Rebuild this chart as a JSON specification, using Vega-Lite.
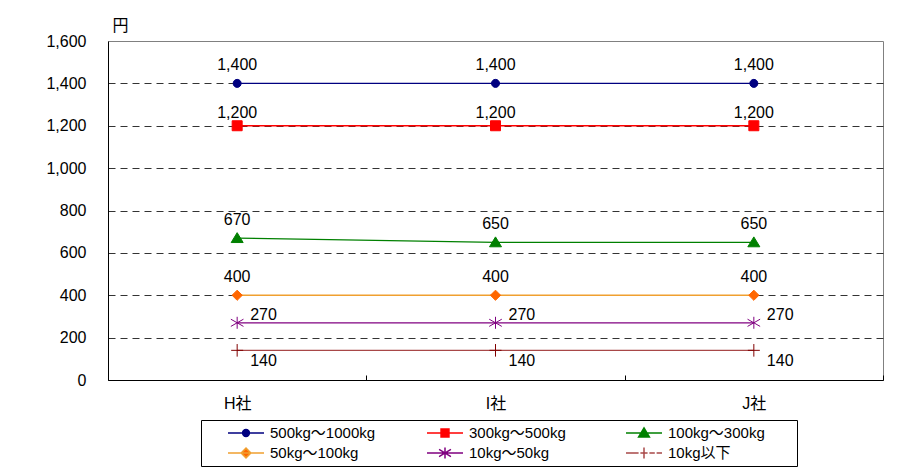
{
  "$schema": "https://vega.github.io/schema/vega-lite/v6.json",
  "width": 775,
  "height": 339,
  "autosize": {"type": "none"},
  "padding": {"left": 108, "top": 41, "right": 35, "bottom": 95},
  "data": {
    "values": [
      {"company": "H社", "series": "500kg～1000kg", "value": 1400},
      {"company": "I社", "series": "500kg～1000kg", "value": 1400},
      {"company": "J社", "series": "500kg～1000kg", "value": 1400},
      {"company": "H社", "series": "300kg～500kg", "value": 1200},
      {"company": "I社", "series": "300kg～500kg", "value": 1200},
      {"company": "J社", "series": "300kg～500kg", "value": 1200},
      {"company": "H社", "series": "100kg～300kg", "value": 670},
      {"company": "I社", "series": "100kg～300kg", "value": 650},
      {"company": "J社", "series": "100kg～300kg", "value": 650},
      {"company": "H社", "series": "50kg～100kg", "value": 400},
      {"company": "I社", "series": "50kg～100kg", "value": 400},
      {"company": "J社", "series": "50kg～100kg", "value": 400},
      {"company": "H社", "series": "10kg～50kg", "value": 270},
      {"company": "I社", "series": "10kg～50kg", "value": 270},
      {"company": "J社", "series": "10kg～50kg", "value": 270},
      {"company": "H社", "series": "10kg以下", "value": 140},
      {"company": "I社", "series": "10kg以下", "value": 140},
      {"company": "J社", "series": "10kg以下", "value": 140}
    ]
  },
  "config": {
    "font": "Liberation Sans, Noto Sans CJK JP",
    "view": {"stroke": "#808080", "strokeWidth": 1},
    "axis": {"labelColor": "#000", "labelFontSize": 16, "labelFont": "Liberation Sans, Noto Sans CJK JP", "domainColor": "#000", "tickColor": "#000"},
    "text": {"font": "Liberation Sans, Noto Sans CJK JP", "fontSize": 16, "color": "#000"}
  },
  "encoding": {
    "x": {
      "field": "company", "type": "nominal", "sort": ["H社", "I社", "J社"],
      "scale": {"type": "band", "paddingInner": 0, "paddingOuter": 0},
      "axis": {"title": null, "labelAngle": 0, "tickBand": "extent", "tickSize": -5, "labelPadding": 20, "grid": false}
    },
    "y": {
      "field": "value", "type": "quantitative",
      "scale": {"domain": [0, 1600], "nice": false},
      "axis": {
        "values": [0, 200, 400, 600, 800, 1000, 1200, 1400, 1600],
        "format": ",d",
        "title": "円", "titleAngle": 0, "titleX": 4, "titleY": -16, "titleAlign": "left", "titleBaseline": "middle",
        "titleFontSize": 16, "titleFontWeight": "normal", "titleColor": "#000", "titleFont": "Noto Sans CJK JP",
        "tickSize": 0, "labelPadding": 22,
        "grid": true, "gridDash": [7, 5], "gridColor": "#333", "gridWidth": 1,
        "gridOpacity": {"condition": {"test": "datum.value === 0 || datum.value === 1600", "value": 0}, "value": 1}
      }
    }
  },
  "layer": [
    {
      "mark": {"type": "line", "strokeWidth": 1.3},
      "encoding": {
        "stroke": {
          "field": "series", "type": "nominal",
          "scale": {"domain": ["500kg～1000kg", "50kg～100kg", "300kg～500kg", "10kg～50kg", "100kg～300kg", "10kg以下"],
                    "range": ["#000080", "#f0a030", "#ff0000", "#800080", "#008000", "#a84848"]},
          "legend": {
            "orient": "none", "legendX": 93, "legendY": 379, "columns": 3,
            "title": "　", "titleOrient": "right", "titlePadding": 29, "titleFontSize": 4,
            "strokeColor": "#000", "fillColor": "#fff", "padding": 3,
            "symbolSize": 1296, "symbolOffset": 23, "labelOffset": 5, "labelFontSize": 15, "labelColor": "#000",
            "labelFont": "Liberation Sans, Noto Sans CJK JP",
            "columnPadding": 27, "rowPadding": 0, "gridAlign": "all", "clipHeight": 20,
            "encode": {
              "symbols": {
                "update": {
                  "shape": {"signal": "['M-1,0H1M0.19,0A0.19,0.19,0,1,1,-0.19,0A0.19,0.19,0,1,1,0.19,0Z','M-1,0H1M-0.22,-0.22H0.22V0.22H-0.22Z','M-1,0H1M0,-0.28L0.3,0.22H-0.3Z','M-1,0H1M0,-0.27L0.27,0L0,0.27L-0.27,0Z','M-1,0H1M0,-0.3V0.3M-0.33,-0.2L0.33,0.2M-0.33,0.2L0.33,-0.2','M-1,0H-0.3M-0.2,0H0.2M0.3,0H0.6M0.7,0H1M0,-0.3V0.3'][indexof(['500kg～1000kg','300kg～500kg','100kg～300kg','50kg～100kg','10kg～50kg','10kg以下'], datum.value)]"},
                  "fill": {"signal": "['#000080','#ff0000','#008000','#ff6600','#800080','#800000'][indexof(['500kg～1000kg','300kg～500kg','100kg～300kg','50kg～100kg','10kg～50kg','10kg以下'], datum.value)]"},
                  "strokeWidth": {"value": 1.5},
                  "opacity": {"value": 1}
                }
              }
            }
          }
        }
      }
    },
    {
      "mark": {"type": "point", "filled": true, "opacity": 1, "strokeWidth": 1, "size": 144},
      "encoding": {
        "fill": {
          "field": "series", "type": "nominal",
          "scale": {"domain": ["500kg～1000kg", "300kg～500kg", "100kg～300kg", "50kg～100kg", "10kg～50kg", "10kg以下"],
                    "range": ["#000080", "#ff0000", "#008000", "#ff6600", "#800080", "#800000"]},
          "legend": null
        },
        "stroke": {
          "field": "series", "type": "nominal",
          "scale": {"domain": ["500kg～1000kg", "300kg～500kg", "100kg～300kg", "50kg～100kg", "10kg～50kg", "10kg以下"],
                    "range": ["#000080", "#ff0000", "#008000", "#ff6600", "#800080", "#800000"]},
          "legend": null
        },
        "shape": {
          "field": "series", "type": "nominal",
          "scale": {"domain": ["500kg～1000kg", "300kg～500kg", "100kg～300kg", "50kg～100kg", "10kg～50kg", "10kg以下"],
                    "range": ["M0.667,0A0.667,0.667,0,1,1,-0.667,0A0.667,0.667,0,1,1,0.667,0Z", "M-0.833,-0.833H0.833V0.833H-0.833Z", "M0,-0.9L1,0.75H-1Z", "M0,-0.85L0.85,0L0,0.85L-0.85,0Z", "M0,-1V1M-1.05,-0.6L1.05,0.6M-1.05,0.6L1.05,-0.6", "M-1,0H1M0,-1.05V1.05"]},
          "legend": null
        }
      }
    },
    {
      "transform": [{"filter": {"field": "series", "oneOf": ["500kg～1000kg", "100kg～300kg", "50kg～100kg"]}}],
      "mark": {"type": "text", "dy": -18, "align": "center", "baseline": "middle"},
      "encoding": {"text": {"field": "value", "type": "quantitative", "format": ","}}
    },
    {
      "transform": [{"filter": {"field": "series", "equal": "300kg～500kg"}}],
      "mark": {"type": "text", "dy": -13, "align": "center", "baseline": "middle"},
      "encoding": {"text": {"field": "value", "type": "quantitative", "format": ","}}
    },
    {
      "transform": [{"filter": {"field": "series", "equal": "10kg～50kg"}}],
      "mark": {"type": "text", "dx": 13, "dy": -8, "align": "left", "baseline": "middle"},
      "encoding": {"text": {"field": "value", "type": "quantitative", "format": ","}}
    },
    {
      "transform": [{"filter": {"field": "series", "equal": "10kg以下"}}],
      "mark": {"type": "text", "dx": 13, "dy": 11, "align": "left", "baseline": "middle"},
      "encoding": {"text": {"field": "value", "type": "quantitative", "format": ","}}
    }
  ],
  "resolve": {"scale": {"stroke": "independent"}}
}
